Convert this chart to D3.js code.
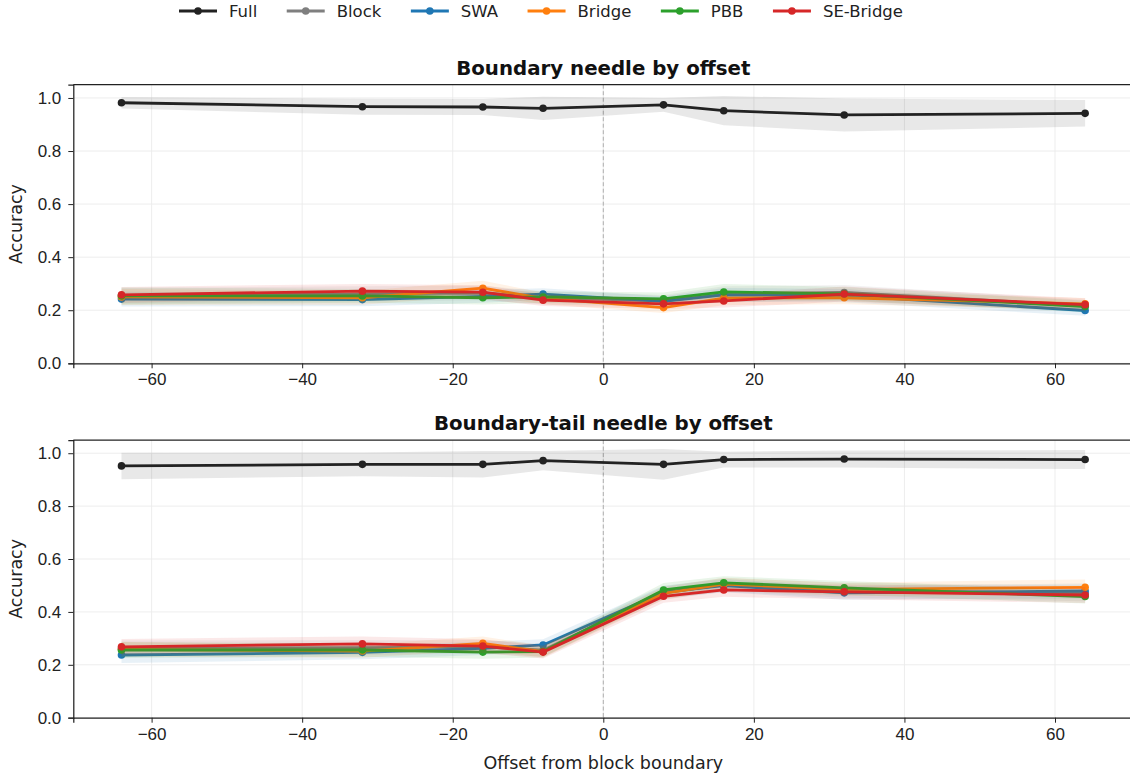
<!DOCTYPE html>
<html>
<head>
<meta charset="utf-8">
<script src="https://cdn.jsdelivr.net/npm/d3@7"></script>
<style>
	body { margin: 0; background: #fff; }
	svg { display: block; font-family: "DejaVu Sans", sans-serif; }
	.grid line { stroke: #ebebeb; stroke-width: 0.9; }
	.axis path, .axis line { stroke: #222; }
	.axis text { font-size: 17px; fill: #222; }
</style>
</head>
<body>
<div id="chart"></div>
<script>
var offsets = [-64, -32, -16, -8, 8, 16, 32, 64];
var seriesNames = ['Full', 'Block', 'SWA', 'Bridge', 'PBB', 'SE-Bridge'];
var seriesColors = ['#222222', '#7f7f7f', '#1f77b4', '#ff7f0e', '#2ca02c', '#d62728'];
var xTicks = [-60, -40, -20, 0, 20, 40, 60];
var yTicks = [0, 0.2, 0.4, 0.6, 0.8, 1.0];

// boundary needle: mean accuracy per offset
var boundaryFull   = [0.982, 0.967, 0.966, 0.961, 0.974, 0.952, 0.936, 0.942];
var boundaryBlock  = [0.255, 0.262, 0.265, 0.247, 0.235, 0.260, 0.267, 0.217];
var boundarySWA    = [0.242, 0.240, 0.252, 0.261, 0.233, 0.258, 0.255, 0.199];
var boundaryBridge = [0.250, 0.247, 0.283, 0.245, 0.210, 0.246, 0.247, 0.224];
var boundaryPBB    = [0.254, 0.254, 0.247, 0.250, 0.243, 0.269, 0.262, 0.214];
var boundarySE     = [0.258, 0.272, 0.268, 0.238, 0.224, 0.235, 0.261, 0.221];
// spread (std) per offset
var boundaryFullSd   = [0.022, 0.030, 0.030, 0.044, 0.026, 0.055, 0.062, 0.050];
var boundaryBlockSd  = [0.030, 0.028, 0.027, 0.025, 0.022, 0.030, 0.028, 0.022];
var boundarySWASd    = [0.028, 0.025, 0.024, 0.022, 0.020, 0.026, 0.025, 0.020];
var boundaryBridgeSd = [0.030, 0.026, 0.028, 0.022, 0.020, 0.027, 0.024, 0.022];
var boundaryPBBSd    = [0.032, 0.026, 0.025, 0.022, 0.024, 0.030, 0.026, 0.022];
var boundarySESd     = [0.030, 0.027, 0.026, 0.022, 0.020, 0.025, 0.028, 0.024];

// boundary-tail needle: mean accuracy per offset
var tailFull   = [0.952, 0.958, 0.958, 0.972, 0.958, 0.976, 0.978, 0.976];
var tailBlock  = [0.262, 0.265, 0.268, 0.255, 0.472, 0.502, 0.482, 0.470];
var tailSWA    = [0.237, 0.247, 0.262, 0.275, 0.475, 0.499, 0.472, 0.479];
var tailBridge = [0.258, 0.252, 0.281, 0.250, 0.470, 0.505, 0.485, 0.493];
var tailPBB    = [0.256, 0.256, 0.248, 0.250, 0.483, 0.510, 0.491, 0.458];
var tailSE     = [0.268, 0.279, 0.271, 0.248, 0.459, 0.483, 0.476, 0.464];
var tailFullSd   = [0.050, 0.045, 0.050, 0.036, 0.058, 0.030, 0.032, 0.036];
var tailBlockSd  = [0.030, 0.028, 0.026, 0.024, 0.025, 0.026, 0.028, 0.030];
var tailSWASd    = [0.030, 0.026, 0.025, 0.022, 0.024, 0.025, 0.026, 0.028];
var tailBridgeSd = [0.028, 0.025, 0.026, 0.022, 0.024, 0.024, 0.025, 0.030];
var tailPBBSd    = [0.030, 0.026, 0.025, 0.022, 0.026, 0.025, 0.026, 0.026];
var tailSESd     = [0.030, 0.028, 0.026, 0.024, 0.024, 0.026, 0.028, 0.030];

var panels = [
	{
		title: 'Boundary needle by offset',
		top: 84.7, bottom: 363.3, xLabel: false,
		means: [boundaryFull, boundaryBlock, boundarySWA, boundaryBridge, boundaryPBB, boundarySE],
		sds: [boundaryFullSd, boundaryBlockSd, boundarySWASd, boundaryBridgeSd, boundaryPBBSd, boundarySESd]
	},
	{
		title: 'Boundary-tail needle by offset',
		top: 440, bottom: 717.7, xLabel: true,
		means: [tailFull, tailBlock, tailSWA, tailBridge, tailPBB, tailSE],
		sds: [tailFullSd, tailBlockSd, tailSWASd, tailBridgeSd, tailPBBSd, tailSESd]
	}
];

var width = 1130,
	height = 776,
	left = 73.3,
	right = 1133.3;

var svg = d3.select('#chart')
	.append('svg')
	.attr('width', width)
	.attr('height', height)

var x = d3.scaleLinear()
	.domain([-70.4, 70.4])
	.range([left, right])

panels.forEach(drawPanel);
drawLegend();

function drawPanel(p)
{
	var y = d3.scaleLinear()
		.domain([0, 1.05])
		.range([p.bottom, p.top])

	var g = svg.append('g')

	// grid
	var grid = g.append('g').attr('class', 'grid')
	grid.selectAll('.gx')
		.data(xTicks)
		.enter()
		.append('line')
		.attr('x1', function(d) { return x(d) })
		.attr('x2', function(d) { return x(d) })
		.attr('y1', p.top)
		.attr('y2', p.bottom)
	grid.selectAll('.gy')
		.data(yTicks)
		.enter()
		.append('line')
		.attr('x1', left)
		.attr('x2', right)
		.attr('y1', function(d) { return y(d) })
		.attr('y2', function(d) { return y(d) })

	// zero offset marker
	g.append('line')
		.attr('x1', x(0)).attr('x2', x(0))
		.attr('y1', p.top).attr('y2', p.bottom)
		.attr('stroke', '#b0b0b0')
		.attr('stroke-width', 1)
		.attr('stroke-dasharray', '4,2.5')

	var area = d3.area()
		.x(function(d) { return x(d.x) })
		.y0(function(d) { return y(d.m - d.s) })
		.y1(function(d) { return y(d.m + d.s) })

	var line = d3.line()
		.x(function(d) { return x(d.x) })
		.y(function(d) { return y(d.m) })

	seriesNames.forEach(function(name, i) {
		var pts = offsets.map(function(o, j) {
			return {x: o, m: p.means[i][j], s: p.sds[i][j]}
		})
		var color = seriesColors[i]
		var s = g.append('g')

		s.append('path')
			.attr('d', area(pts))
			.attr('fill', color)
			.attr('fill-opacity', 0.1)

		s.append('path')
			.attr('d', line(pts))
			.attr('fill', 'none')
			.attr('stroke', color)
			.attr('stroke-width', 2.8)
			.attr('stroke-linejoin', 'round')

		s.selectAll('circle')
			.data(pts)
			.enter()
			.append('circle')
			.attr('cx', function(d) { return x(d.x) })
			.attr('cy', function(d) { return y(d.m) })
			.attr('r', 3.8)
			.attr('fill', color)
	})

	// axes
	g.append('g')
		.attr('class', 'axis')
		.attr('transform', 'translate(0,' + p.bottom + ')')
		.call(d3.axisBottom(x).tickValues(xTicks).tickSize(5).tickPadding(5)
			.tickFormat(function(d) { return d < 0 ? '\u2212' + Math.abs(d) : d }))
		.call(function(a) { a.select('.domain').attr('stroke-width', 1.25) })

	g.append('g')
		.attr('class', 'axis')
		.attr('transform', 'translate(' + left + ',0)')
		.call(d3.axisLeft(y).tickValues(yTicks).tickSize(5).tickPadding(7).tickFormat(d3.format('.1f')))
		.call(function(a) { a.select('.domain').attr('stroke-width', 1.25) })

	// top spine
	g.append('line')
		.attr('x1', left).attr('x2', right)
		.attr('y1', p.top).attr('y2', p.top)
		.attr('stroke', '#222')
		.attr('stroke-width', 1.25)

	g.append('text')
		.attr('x', (left + right) / 2)
		.attr('y', p.top - 10)
		.attr('text-anchor', 'middle')
		.attr('font-size', 19.8)
		.attr('font-weight', 'bold')
		.attr('fill', '#111')
		.text(p.title)

	g.append('text')
		.attr('transform', 'translate(22,' + (p.top + p.bottom) / 2 + ') rotate(-90)')
		.attr('text-anchor', 'middle')
		.attr('font-size', 17.5)
		.attr('fill', '#222')
		.text('Accuracy')

	if (p.xLabel) {
		g.append('text')
			.attr('x', (left + right) / 2)
			.attr('y', p.bottom + 51)
			.attr('text-anchor', 'middle')
			.attr('font-size', 17.5)
			.attr('fill', '#222')
			.text('Offset from block boundary')
	}
}

function drawLegend()
{
	var lg = svg.append('g').attr('transform', 'translate(179,11)')
	var cursor = 0
	seriesNames.forEach(function(name, i) {
		var item = lg.append('g').attr('transform', 'translate(' + cursor + ',0)')
		item.append('line')
			.attr('x1', 0).attr('x2', 38)
			.attr('stroke', seriesColors[i])
			.attr('stroke-width', 2.8)
		item.append('circle')
			.attr('cx', 19)
			.attr('r', 3.8)
			.attr('fill', seriesColors[i])
		var t = item.append('text')
			.attr('x', 50)
			.attr('dy', '0.36em')
			.attr('font-size', 16.5)
			.attr('fill', '#222')
			.text(name)
		cursor += 50 + t.node().getComputedTextLength() + 29.5
	})
}
</script>
</body>
</html>
